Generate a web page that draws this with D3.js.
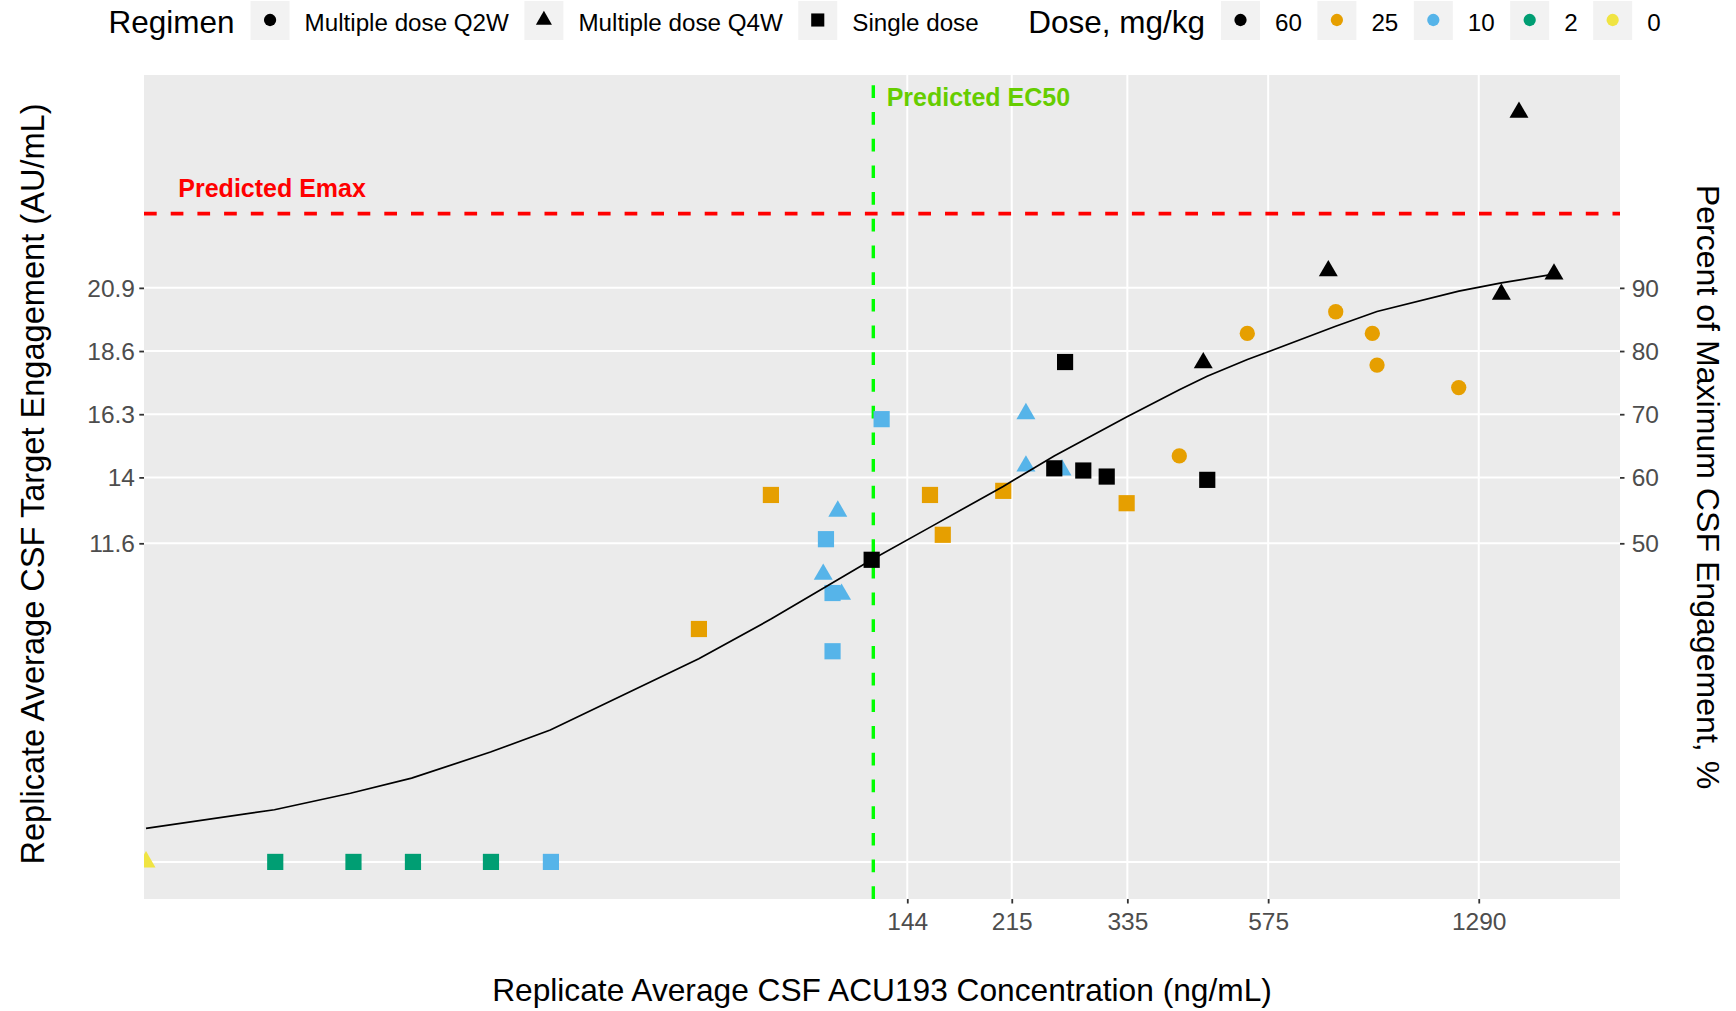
<!DOCTYPE html>
<html>
<head>
<meta charset="utf-8">
<script src="https://cdn.jsdelivr.net/npm/d3@7"></script>
<style>
  html, body { margin: 0; padding: 0; background: #ffffff; }
  svg { display: block; font-family: "Liberation Sans", Arial, Helvetica, sans-serif; }
</style>
</head>
<body>
<svg id="chart" width="1736" height="1011"></svg>
<script>
// ---------------- data ----------------
const regimenLevels = ["Multiple dose Q2W", "Multiple dose Q4W", "Single dose"];
const doseLevels = ["60", "25", "10", "2", "0"];

// Observations, in drawing order: replicate-average CSF concentration (ng/mL),
// target engagement (AU/mL), regimen and dose (mg/kg)
const obsConc = [
  7.76,
  110.3, 104.3, 111.9, 227.0, 227.0, 260.7,
  448.3, 724.3, 1406.9, 1505.3, 1721.8,
  12.74, 17.2, 21.61, 29.15,
  36.69, 130.5, 105.4, 108.1, 108.1,
  64.74, 85.33, 157.1, 165.0, 208.1, 334.1,
  125.6, 253.1, 263.8, 282.9, 309.5, 455.2,
  408.9, 530.8, 745.2, 857.6, 873.2, 1194.6
];
const obsEngagement = [
  0,
  12.77, 10.47, 9.74, 16.32, 14.41, 14.27,
  18.17, 21.52, 20.67, 27.29, 21.4,
  0, 0, 0, 0,
  0, 16.12, 11.75, 9.79, 7.67,
  8.48, 13.36, 13.36, 11.91, 13.51, 13.06,
  11.0, 14.33, 18.2, 14.25, 14.03, 13.91,
  14.78, 19.24, 20.03, 19.24, 18.09, 17.27
];
const obsRegimen = [
  "Multiple dose Q4W",
  "Multiple dose Q4W", "Multiple dose Q4W", "Multiple dose Q4W", "Multiple dose Q4W", "Multiple dose Q4W", "Multiple dose Q4W",
  "Multiple dose Q4W", "Multiple dose Q4W", "Multiple dose Q4W", "Multiple dose Q4W", "Multiple dose Q4W",
  "Single dose", "Single dose", "Single dose", "Single dose",
  "Single dose", "Single dose", "Single dose", "Single dose", "Single dose",
  "Single dose", "Single dose", "Single dose", "Single dose", "Single dose", "Single dose",
  "Single dose", "Single dose", "Single dose", "Single dose", "Single dose", "Single dose",
  "Multiple dose Q2W", "Multiple dose Q2W", "Multiple dose Q2W", "Multiple dose Q2W", "Multiple dose Q2W", "Multiple dose Q2W"
];
const obsDose = [
  "0",
  "10", "10", "10", "10", "10", "10",
  "60", "60", "60", "60", "60",
  "2", "2", "2", "2",
  "10", "10", "10", "10", "10",
  "25", "25", "25", "25", "25", "25",
  "60", "60", "60", "60", "60", "60",
  "25", "25", "25", "25", "25", "25"
];

// Model-predicted engagement along the concentration range
const fitConc = [7.76, 12.7, 17.0, 21.5, 29.1, 36.6, 64.7, 85.5, 105, 125.6, 157, 208, 253, 334, 409, 455, 531, 745, 873, 1195, 1407, 1722];
const fitEngagement = [1.22, 1.9, 2.5, 3.05, 4.0, 4.8, 7.4, 8.85, 10.0, 11.0, 12.18, 13.67, 14.78, 16.2, 17.19, 17.68, 18.29, 19.5, 20.04, 20.78, 21.08, 21.4];

const xTickValues = [144, 215, 335, 575, 1290];
const yTickValues = [11.6, 14, 16.3, 18.6, 20.9];
const pctTickLabels = ["50", "60", "70", "80", "90"];

const predictedEmax = 23.6;
const predictedEC50 = 126.4;

// ---------------- styling ----------------
const doseColors = ["#000000", "#E69F00", "#56B4E9", "#009E73", "#F0E442"];
const regimenSymbols = [d3.symbolCircle, d3.symbolTriangle, d3.symbolSquare];
const plotSymbolSize = [184, 156, 262];    // circle, triangle, square (area, px^2)
const legendSymbolSize = [118, 112, 172];

const panel = { left: 144, right: 1620, top: 75, bottom: 899 };

const svg = d3.select("#chart");

const x = d3.scaleLog().domain([7.70, 2218]).range([panel.left, panel.right]);
const y = d3.scaleLinear().domain([-1.35, 28.65]).range([panel.bottom, panel.top]);

const colorOf = d3.scaleOrdinal().domain(doseLevels).range(doseColors);
const shapeOf = d3.scaleOrdinal().domain(regimenLevels).range(regimenSymbols);
const sizeOf = d3.scaleOrdinal().domain(regimenLevels).range(plotSymbolSize);

// ---------------- panel ----------------
svg.append("defs").append("clipPath").attr("id", "panel-clip")
  .append("rect")
  .attr("x", panel.left).attr("y", panel.top)
  .attr("width", panel.right - panel.left).attr("height", panel.bottom - panel.top);

svg.append("rect")
  .attr("x", panel.left).attr("y", panel.top)
  .attr("width", panel.right - panel.left).attr("height", panel.bottom - panel.top)
  .attr("fill", "#EBEBEB");

const plot = svg.append("g").attr("clip-path", "url(#panel-clip)");

// grid
plot.append("g").selectAll("line").data(xTickValues).join("line")
  .attr("x1", d => x(d)).attr("x2", d => x(d))
  .attr("y1", panel.top).attr("y2", panel.bottom)
  .attr("stroke", "#ffffff").attr("stroke-width", 2);
plot.append("g").selectAll("line").data(yTickValues.concat([0])).join("line")
  .attr("x1", panel.left).attr("x2", panel.right)
  .attr("y1", d => y(d)).attr("y2", d => y(d))
  .attr("stroke", "#ffffff").attr("stroke-width", 2);

// reference lines
plot.append("line")
  .attr("x1", panel.left).attr("x2", panel.right)
  .attr("y1", y(predictedEmax)).attr("y2", y(predictedEmax))
  .attr("stroke", "#FF0000").attr("stroke-width", 3.8)
  .attr("stroke-dasharray", "12.7 14");
plot.append("line")
  .attr("x1", x(predictedEC50)).attr("x2", x(predictedEC50))
  .attr("y1", panel.bottom).attr("y2", panel.top)
  .attr("stroke", "#00FF00").attr("stroke-width", 3.4)
  .attr("stroke-dasharray", "12.7 14");

// observations
const obs = obsConc.map((c, i) => ({
  conc: c, value: obsEngagement[i], regimen: obsRegimen[i], dose: obsDose[i]
}));
plot.append("g").selectAll("path").data(obs).join("path")
  .attr("transform", d => `translate(${x(d.conc)},${y(d.value)})`)
  .attr("d", d => d3.symbol().type(shapeOf(d.regimen)).size(sizeOf(d.regimen))())
  .attr("fill", d => colorOf(d.dose));

// model curve
const fit = fitConc.map((c, i) => ({ conc: c, value: fitEngagement[i] }));
plot.append("path")
  .datum(fit)
  .attr("d", d3.line().x(d => x(d.conc)).y(d => y(d.value)))
  .attr("fill", "none").attr("stroke", "#000000").attr("stroke-width", 1.7);

// annotations
svg.append("text")
  .attr("x", 178.3).attr("y", 196.7)
  .attr("font-size", 25).attr("font-weight", "bold").attr("fill", "#FF0000")
  .text("Predicted Emax");
svg.append("text")
  .attr("x", 886.7).attr("y", 105.7)
  .attr("font-size", 25).attr("font-weight", "bold").attr("fill", "#66CD00")
  .text("Predicted EC50");

// ---------------- axes ----------------
function styleAxis(g) {
  g.select(".domain").remove();
  g.selectAll(".tick line").attr("stroke", "#333333").attr("stroke-width", 1.8);
  g.selectAll(".tick text")
    .attr("fill", "#4D4D4D")
    .attr("font-size", 24.5)
    .attr("font-family", "\"Liberation Sans\", Arial, sans-serif");
}

const xAxis = svg.append("g")
  .attr("transform", `translate(0,${panel.bottom})`)
  .call(d3.axisBottom(x).tickValues(xTickValues).tickFormat(d3.format("d")).tickSize(4.5))
  .call(styleAxis);
xAxis.selectAll(".tick text").attr("y", 31).attr("dy", null);

const yAxis = svg.append("g")
  .attr("transform", `translate(${panel.left},0)`)
  .call(d3.axisLeft(y).tickValues(yTickValues).tickFormat(d => String(d)).tickSize(4.7))
  .call(styleAxis);
yAxis.selectAll(".tick text").attr("x", -9).attr("dy", "0.35em");

const yAxisRight = svg.append("g")
  .attr("transform", `translate(${panel.right},0)`)
  .call(d3.axisRight(y).tickValues(yTickValues).tickFormat((d, i) => pctTickLabels[i]).tickSize(4.5))
  .call(styleAxis);
yAxisRight.selectAll(".tick text").attr("x", 11.7).attr("dy", "0.35em");

// axis titles
const titleSize = 31.5;
const panelMidY = (panel.top + panel.bottom) / 2;
svg.append("text")
  .attr("x", (panel.left + panel.right) / 2).attr("y", 1001)
  .attr("text-anchor", "middle").attr("font-size", 31.7).attr("fill", "#000")
  .text("Replicate Average CSF ACU193 Concentration (ng/mL)");
svg.append("text")
  .attr("transform", `translate(43.5,${panelMidY - 3}) rotate(-90)`)
  .attr("text-anchor", "middle").attr("font-size", 32.6).attr("fill", "#000")
  .text("Replicate Average CSF Target Engagement (AU/mL)");
svg.append("text")
  .attr("transform", `translate(1697,${panelMidY}) rotate(90)`)
  .attr("text-anchor", "middle").attr("font-size", 32.1).attr("fill", "#000")
  .text("Percent of Maximum CSF Engagement, %");

// ---------------- legend ----------------
const legend = svg.append("g");
const keyW = 39, keyTop = 1, keyH = 39, keyCy = 20;
const labelSize = 24.2;
let cursor = 108.5;

function addTitle(text) {
  const t = legend.append("text")
    .attr("x", cursor).attr("y", 33.3)
    .attr("font-size", titleSize).attr("fill", "#000").text(text);
  cursor += t.node().getComputedTextLength() + 16;
}
function addItem(symbolType, symbolSize, color, label) {
  legend.append("rect")
    .attr("x", cursor).attr("y", keyTop).attr("width", keyW).attr("height", keyH)
    .attr("fill", "#F2F2F2");
  legend.append("path")
    .attr("transform", `translate(${cursor + keyW / 2},${keyCy})`)
    .attr("d", d3.symbol().type(symbolType).size(symbolSize)())
    .attr("fill", color);
  cursor += keyW + 15;
  const t = legend.append("text")
    .attr("x", cursor).attr("y", 31)
    .attr("font-size", labelSize).attr("fill", "#000").text(label);
  cursor += t.node().getComputedTextLength() + 15.5;
}

addTitle("Regimen");
regimenLevels.forEach((r, i) => addItem(regimenSymbols[i], legendSymbolSize[i], "#000000", r));
cursor += 34;
addTitle("Dose, mg/kg");
doseLevels.forEach((d, i) => addItem(d3.symbolCircle, legendSymbolSize[0], doseColors[i], d));
</script>
</body>
</html>
